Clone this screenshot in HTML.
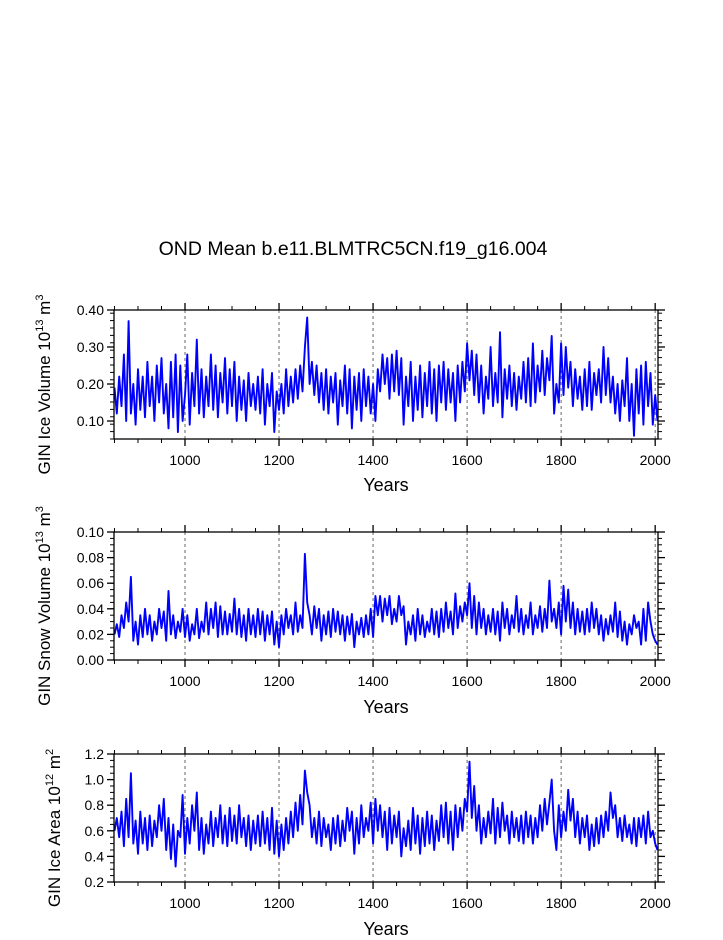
<!DOCTYPE html>
<html><head><meta charset="utf-8"><style>
body{margin:0;background:#fff;}
svg text{font-family:"Liberation Sans",sans-serif;fill:#000;}
</style></head><body>
<svg id="chart" width="723" height="935" xmlns="http://www.w3.org/2000/svg">
<text x="353" y="255" font-size="19.5" text-anchor="middle">OND Mean b.e11.BLMTRC5CN.f19_g16.004</text>
</svg>
<script>
const startYear = 850;
const stepYears = 5;
const xTicks = [1000, 1200, 1400, 1600, 1800, 2000];
const iceVolume = [
.19,.12,.22,.14,.28,.10,.37,.12,.20,.09,.24,.13,.22,.11,.26,.14,.22,.10,.25,.15,
.27,.12,.20,.08,.26,.11,.28,.07,.25,.10,.17,.28,.09,.23,.14,.32,.12,.24,.11,.22,
.14,.28,.13,.25,.11,.23,.15,.27,.12,.24,.14,.26,.10,.22,.13,.21,.10,.23,.14,.20,
.13,.22,.12,.24,.09,.20,.14,.23,.07,.18,.13,.20,.12,.24,.14,.22,.15,.24,.16,.25,
.18,.30,.38,.20,.26,.17,.25,.15,.23,.13,.24,.12,.22,.15,.23,.09,.21,.14,.25,.12,
.24,.08,.22,.13,.23,.10,.24,.14,.22,.12,.20,.10,.24,.18,.28,.20,.27,.16,.28,.18,
.29,.17,.27,.09,.22,.14,.26,.10,.22,.13,.25,.11,.23,.14,.26,.12,.24,.10,.25,.15,
.26,.13,.24,.15,.23,.10,.25,.15,.26,.18,.31,.21,.29,.17,.28,.15,.25,.12,.22,.16,
.30,.14,.23,.15,.34,.11,.24,.16,.25,.14,.23,.13,.22,.16,.26,.15,.27,.14,.31,.15,
.25,.18,.29,.17,.27,.21,.33,.12,.20,.15,.31,.17,.30,.19,.26,.14,.24,.16,.22,.13,
.24,.14,.26,.13,.23,.17,.24,.15,.30,.17,.27,.15,.22,.12,.20,.10,.21,.14,.27,.10,
.20,.06,.24,.12,.25,.09,.26,.14,.23,.09,.17,.10];
const snowVolume = [
.02,.028,.018,.035,.025,.045,.03,.065,.015,.03,.012,.035,.018,.04,.02,.035,.015,.03,.02,.04,
.025,.038,.015,.054,.02,.035,.017,.03,.022,.04,.018,.035,.015,.028,.02,.04,.017,.03,.022,.045,
.02,.04,.025,.045,.018,.042,.02,.038,.02,.036,.022,.048,.02,.04,.018,.035,.015,.04,.02,.035,
.018,.04,.02,.038,.015,.035,.02,.038,.012,.03,.01,.035,.02,.04,.025,.035,.02,.045,.022,.035,
.025,.083,.045,.035,.02,.042,.025,.04,.015,.035,.02,.038,.018,.04,.022,.038,.02,.035,.015,.034,
.02,.036,.01,.03,.02,.033,.018,.035,.02,.04,.018,.05,.035,.05,.03,.048,.035,.05,.028,.04,
.03,.05,.035,.042,.012,.03,.02,.035,.015,.04,.02,.035,.018,.03,.022,.04,.02,.038,.018,.04,
.022,.045,.025,.038,.02,.052,.025,.042,.03,.045,.035,.06,.025,.05,.02,.045,.025,.04,.02,.035,
.022,.04,.02,.038,.015,.045,.025,.04,.02,.035,.025,.05,.022,.04,.02,.035,.025,.045,.02,.035,
.025,.042,.022,.04,.025,.062,.03,.04,.025,.045,.02,.058,.03,.055,.025,.045,.02,.04,.022,.038,
.02,.04,.022,.045,.025,.04,.02,.035,.015,.032,.02,.035,.022,.045,.018,.038,.015,.03,.012,.028,
.02,.035,.025,.03,.012,.04,.015,.045,.03,.02,.015,.012];
const iceArea = [
.6,.7,.55,.75,.48,.85,.55,1.05,.5,.68,.42,.75,.5,.7,.45,.72,.48,.68,.55,.8,
.6,.85,.45,.7,.38,.65,.32,.6,.55,.88,.42,.7,.5,.8,.6,.9,.45,.7,.42,.65,
.5,.75,.48,.7,.55,.8,.5,.72,.48,.78,.52,.72,.5,.8,.55,.7,.48,.72,.45,.68,
.5,.72,.48,.75,.5,.7,.45,.78,.42,.68,.4,.65,.45,.7,.5,.75,.55,.82,.6,.88,
.65,1.07,.9,.8,.55,.7,.5,.75,.48,.7,.55,.65,.45,.7,.5,.72,.48,.68,.52,.78,
.6,.75,.42,.7,.5,.8,.55,.7,.6,.82,.5,.85,.6,.8,.55,.75,.45,.78,.5,.72,
.55,.75,.4,.62,.48,.68,.45,.78,.5,.72,.42,.7,.48,.75,.5,.72,.45,.68,.52,.8,
.55,.82,.5,.75,.45,.8,.55,.78,.6,.85,.75,1.14,.7,.95,.6,.8,.5,.7,.55,.75,
.58,.85,.5,.78,.55,.82,.6,.72,.5,.75,.55,.7,.52,.72,.5,.75,.55,.72,.5,.7,
.55,.8,.6,.85,.65,.82,1.0,.6,.45,.8,.55,.75,.6,.92,.68,.85,.55,.75,.5,.7,
.55,.72,.45,.65,.48,.7,.5,.72,.55,.75,.6,.9,.7,.8,.55,.7,.52,.72,.55,.65,
.5,.7,.48,.7,.55,.72,.5,.75,.55,.6,.5,.45];
const iceTicks = [0.10, 0.20, 0.30, 0.40];
const iceTickLabels = ["0.10","0.20","0.30","0.40"];
const snowTicks = [0, 0.02, 0.04, 0.06, 0.08, 0.10];
const snowTickLabels = ["0.00","0.02","0.04","0.06","0.08","0.10"];
const areaTicks = [0.2, 0.4, 0.6, 0.8, 1.0, 1.2];
const areaTickLabels = ["0.2","0.4","0.6","0.8","1.0","1.2"];

const NS = "http://www.w3.org/2000/svg";
const svg = document.getElementById('chart');
const X0 = 114, X1 = 658, YR0 = 849, YR1 = 2006;
function xScale(yr){ return X0 + (yr - YR0) / (YR1 - YR0) * (X1 - X0); }
function mk(tag, attrs){ const e = document.createElementNS(NS, tag); for (const k in attrs) e.setAttribute(k, attrs[k]); svg.appendChild(e); return e; }

function panel(key, top, bottom, vmin, vmax, data, ticks, labels, minorStep, titleMain, sup, unit, unitSup, yearsY){
  const yScale = v => bottom - (v - vmin) / (vmax - vmin) * (bottom - top);
  xTicks.forEach(t => {
    const g = mk('line', {x1:xScale(t), x2:xScale(t), y1:top, y2:bottom, stroke:'#666', 'stroke-width':1, 'stroke-dasharray':'3,3'});
    
    
  });
  let d = '';
  data.forEach((v, i) => { d += (i ? 'L' : 'M') + xScale(startYear + i * stepYears).toFixed(1) + ',' + yScale(v).toFixed(1); });
  const p = mk('path', {d:d, fill:'none', stroke:'#0000ff', 'stroke-width':1.9, 'stroke-linejoin':'round'});
  
  
  const f = mk('rect', {x:X0, y:top, width:X1 - X0, height:bottom - top, fill:'none', stroke:'#000', 'stroke-width':1.3});
  
  
  for (let yr = 850; yr <= 2000; yr += 50) {
    const major = yr % 200 === 0, L = major ? 7 : 4, x = xScale(yr);
    const t1 = mk('line', {x1:x, x2:x, y1:top, y2:top - L, stroke:'#000', 'stroke-width':major?1.3:1});
    
    
    const t2 = mk('line', {x1:x, x2:x, y1:bottom, y2:bottom + L, stroke:'#000', 'stroke-width':major?1.3:1});
    
    
  }
  xTicks.forEach(t => {
    const tx = mk('text', {x:xScale(t), y:bottom + 26, 'font-size':14, 'text-anchor':'middle'});
    tx.textContent = String(t);
    
    
  });
  for (let v = vmin; v <= vmax + 1e-9; v += minorStep) {
    const y = yScale(v);
    const a = mk('line', {x1:X0, x2:X0 - 4, y1:y, y2:y, stroke:'#000', 'stroke-width':1});
    
    
    const b = mk('line', {x1:X1, x2:X1 + 4, y1:y, y2:y, stroke:'#000', 'stroke-width':1});
    
    
  }
  ticks.forEach((t, i) => {
    const y = yScale(t);
    const a = mk('line', {x1:X0, x2:X0 - 7, y1:y, y2:y, stroke:'#000', 'stroke-width':1.3});
    
    
    const b = mk('line', {x1:X1, x2:X1 + 7, y1:y, y2:y, stroke:'#000', 'stroke-width':1.3});
    
    
    const tx = mk('text', {x:X0 - 10, y:y + 5, 'font-size':14, 'text-anchor':'end'});
    tx.textContent = labels[i];
    
    
  });
  const xt = mk('text', {x:(X0 + X1) / 2, y:yearsY, 'font-size':18, 'text-anchor':'middle'});
  xt.textContent = 'Years';
  
  
  const cy = (top + bottom) / 2 + 10;
  const yt = mk('text', {x:0, y:0, 'font-size':17, 'text-anchor':'middle', transform:'translate(' + (key === 'ice-volume' || key === 'snow-volume' ? 50 : 60) + ',' + cy + ') rotate(-90)'});
  
  
  const s1 = document.createElementNS(NS, 'tspan'); s1.textContent = titleMain; yt.appendChild(s1);
  const s2 = document.createElementNS(NS, 'tspan'); s2.setAttribute('dy', '-7'); s2.setAttribute('font-size', '11'); s2.textContent = sup; yt.appendChild(s2);
  const s3 = document.createElementNS(NS, 'tspan'); s3.setAttribute('dy', '7'); s3.textContent = unit; yt.appendChild(s3);
  const s4 = document.createElementNS(NS, 'tspan'); s4.setAttribute('dy', '-7'); s4.setAttribute('font-size', '11'); s4.textContent = unitSup; yt.appendChild(s4);
}

panel('ice-volume', 310, 439, 0.0514, 0.40, iceVolume, iceTicks, iceTickLabels, 0.02, 'GIN Ice Volume 10', '13', ' m', '3', 491);
panel('snow-volume', 532, 660, 0, 0.10, snowVolume, snowTicks, snowTickLabels, 0.005, 'GIN Snow Volume 10', '13', ' m', '3', 713);
panel('ice-area', 754, 882, 0.2, 1.2, iceArea, areaTicks, areaTickLabels, 0.05, 'GIN Ice Area 10', '12', ' m', '2', 935);
</script>
</body></html>
